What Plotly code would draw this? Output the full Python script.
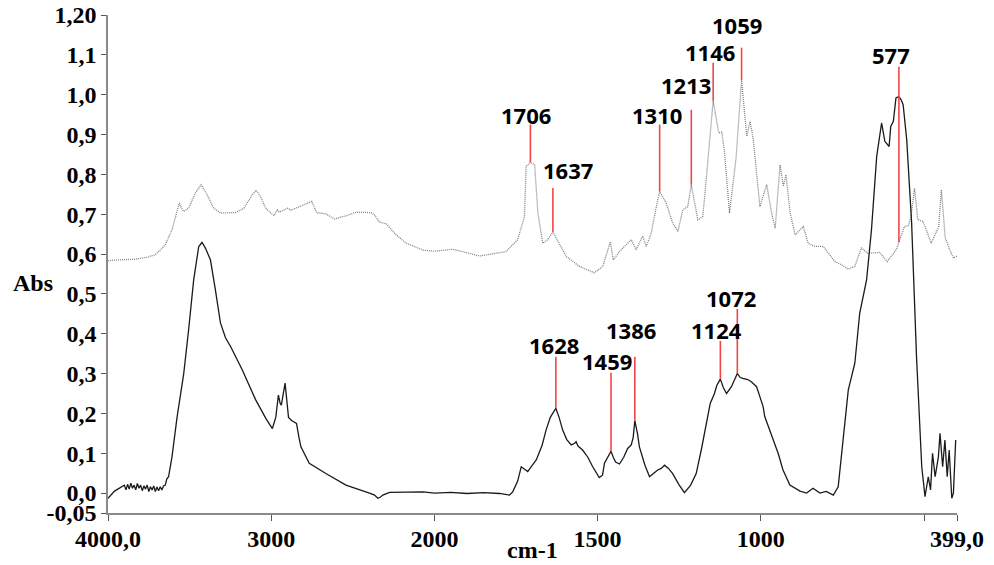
import numpy as np
import plotly.graph_objects as go

# ---------------- data (wavenumber cm-1, absorbance) ----------------
upper_wn = [4000, 3988, 3900, 3834, 3760, 3711, 3680, 3649, 3608, 3577, 3563, 3550, 3537, 3506,
            3465, 3430, 3393, 3352, 3311, 3218, 3167, 3116, 3092, 3065, 3034, 2983, 2962, 2950,
            2932, 2915, 2901, 2880, 2849, 2798, 2751, 2722, 2665, 2613, 2542, 2480, 2388, 2367,
            2337, 2295, 2234, 2172, 2070, 2000, 1944, 1862, 1781, 1745, 1724, 1719, 1706, 1693,
            1683, 1668, 1653, 1637, 1617, 1596, 1556, 1510, 1484, 1469, 1461, 1452, 1433, 1418,
            1397, 1382, 1362, 1351, 1336, 1320, 1310, 1290, 1270, 1254, 1239, 1224, 1213, 1193,
            1178, 1173, 1158, 1146, 1129, 1120, 1112, 1096, 1076, 1059, 1043, 1033, 1023, 1003,
            982, 967, 956, 941, 931, 923, 910, 895, 870, 855, 834, 809, 773, 753, 733, 712, 692,
            672, 636, 613, 585, 560, 548, 540, 529, 519, 504, 493, 478, 463, 455, 447, 435, 421,
            410, 399]
upper_abs = [0.583, 0.584, 0.586, 0.587, 0.592, 0.598, 0.610, 0.623, 0.661, 0.711, 0.728, 0.715,
             0.707, 0.715, 0.753, 0.774, 0.749, 0.715, 0.703, 0.704, 0.715, 0.749, 0.760, 0.744,
             0.715, 0.696, 0.711, 0.705, 0.709, 0.712, 0.715, 0.710, 0.715, 0.724, 0.732, 0.704,
             0.701, 0.688, 0.696, 0.705, 0.704, 0.698, 0.680, 0.676, 0.648, 0.627, 0.610, 0.607,
             0.612, 0.595, 0.606, 0.636, 0.694, 0.820, 0.830, 0.824, 0.703, 0.627, 0.636, 0.655,
             0.627, 0.594, 0.569, 0.553, 0.569, 0.611, 0.631, 0.585, 0.606, 0.619, 0.636, 0.611,
             0.645, 0.619, 0.652, 0.719, 0.757, 0.728, 0.678, 0.657, 0.711, 0.719, 0.774, 0.686,
             0.694, 0.736, 0.870, 0.985, 0.904, 0.906, 0.862, 0.703, 0.840, 1.036, 0.895, 0.933,
             0.887, 0.719, 0.774, 0.703, 0.665, 0.824, 0.770, 0.799, 0.703, 0.648, 0.669, 0.627,
             0.619, 0.619, 0.581, 0.573, 0.562, 0.569, 0.615, 0.602, 0.604, 0.581, 0.611, 0.669,
             0.671, 0.694, 0.765, 0.686, 0.682, 0.661, 0.627, 0.652, 0.669, 0.761, 0.640, 0.611,
             0.590, 0.595]

lower_wn = [4000, 3980, 3960, 3940, 3920, 3900, 3890, 3880, 3870, 3860, 3850, 3840, 3830, 3820,
            3810, 3800, 3790, 3780, 3770, 3760, 3750, 3740, 3730, 3720, 3710, 3700, 3690, 3680,
            3670, 3660, 3649, 3640, 3629, 3608, 3577, 3536, 3506, 3475, 3444, 3424, 3403, 3372,
            3342, 3311, 3280, 3249, 3177, 3095, 3034, 3003, 2993, 2972, 2956, 2945, 2938, 2915,
            2905, 2894, 2875, 2860, 2845, 2830, 2818, 2767, 2665, 2542, 2450, 2398, 2367, 2347,
            2330, 2316, 2275, 2200, 2070, 2000, 1950, 1900, 1850, 1800, 1770, 1760, 1745, 1734,
            1722, 1714, 1700, 1688, 1670, 1658, 1645, 1628, 1618, 1607, 1595, 1581, 1570, 1566,
            1560, 1546, 1530, 1515, 1495, 1485, 1479, 1459, 1452, 1445, 1433, 1420, 1408, 1397,
            1391, 1386, 1378, 1372, 1355, 1341, 1328, 1316, 1305, 1295, 1283, 1270, 1250, 1234,
            1215, 1198, 1182, 1168, 1155, 1142, 1135, 1124, 1115, 1105, 1090, 1072, 1063, 1055,
            1040, 1030, 1013, 1003, 993, 988, 973, 962, 947, 932, 911, 880, 860, 840, 819, 800,
            778, 763, 748, 732, 712, 697, 676, 661, 645, 636, 630, 620, 607, 602, 594, 586, 577,
            570, 564, 553, 538, 523, 507, 497, 487, 480, 474, 466, 456, 451, 443, 436, 429, 423,
            415, 410, 403]
lower_abs = [-0.013, -0.005, 0.005, 0.010, 0.015, 0.020, 0.008, 0.022, 0.010, 0.025, 0.012, 0.020,
             0.008, 0.024, 0.012, 0.020, 0.006, 0.018, 0.010, 0.020, 0.004, 0.016, 0.008, 0.018,
             0.004, 0.015, 0.006, 0.016, 0.008, 0.018, 0.020, 0.035, 0.041, 0.091, 0.190, 0.300,
             0.410, 0.535, 0.619, 0.629, 0.615, 0.585, 0.510, 0.427, 0.390, 0.368, 0.309, 0.234,
             0.188, 0.167, 0.162, 0.190, 0.246, 0.225, 0.221, 0.276, 0.230, 0.190, 0.182, 0.179,
             0.175, 0.140, 0.116, 0.075, 0.049, 0.020, 0.008, 0.000, -0.005, -0.013, -0.010,
             -0.005, 0.002, 0.003, 0.003, 0.000, 0.002, -0.001, 0.001, -0.001, -0.005, 0.003,
             0.030, 0.066, 0.060, 0.054, 0.070, 0.083, 0.120, 0.158, 0.190, 0.213, 0.190, 0.158,
             0.135, 0.121, 0.125, 0.129, 0.118, 0.108, 0.090, 0.066, 0.039, 0.045, 0.075, 0.105,
             0.090, 0.078, 0.073, 0.090, 0.112, 0.121, 0.140, 0.182, 0.150, 0.116, 0.070, 0.041,
             0.050, 0.058, 0.062, 0.070, 0.062, 0.049, 0.020, 0.001, 0.020, 0.049, 0.110, 0.175,
             0.225, 0.250, 0.270, 0.286, 0.265, 0.250, 0.267, 0.300, 0.290, 0.288, 0.285, 0.280,
             0.267, 0.242, 0.217, 0.192, 0.160, 0.133, 0.100, 0.058, 0.020, 0.005, 0.000, 0.012,
             0.000, 0.004, -0.005, 0.016, 0.133, 0.259, 0.326, 0.452, 0.535, 0.661, 0.845, 0.900,
             0.929, 0.883, 0.870, 0.920, 0.933, 0.992, 0.995, 0.987, 0.975, 0.887, 0.678, 0.342,
             0.066, -0.009, 0.041, 0.008, 0.100, 0.041, 0.091, 0.150, 0.066, 0.133, 0.041, 0.108,
             -0.013, 0.000, 0.133]

# peak labels
upper_peaks = [1706, 1637, 1310, 1213, 1146, 1059, 577]
lower_peaks = [1628, 1459, 1386, 1124, 1072]

x_tick_vals = [4000, 3000, 2000, 1500, 1000, 500, 399]
x_tick_text = ["4000,0", "3000", "2000", "1500", "1000", "", "399,0"]
y_tick_vals = [-0.05, 0.0, 0.1, 0.2, 0.3, 0.4, 0.5, 0.6, 0.7, 0.8, 0.9, 1.0, 1.1, 1.2]
y_tick_text = ["-0,05", "0,0", "0,1", "0,2", "0,3", "0,4", "0,5", "0,6", "0,7", "0,8",
               "0,9", "1,0", "1,1", "1,20"]


# axis scale doubles below 2000 cm-1 (spectrometer-style scale change)
def tx(wn):
    wn = np.asarray(wn, dtype=float)
    return np.where(wn <= 2000, wn, 2000 + (wn - 2000) / 2.0)


# label layout: (line top abs, text centre abs, text x shift px)
upper_layout = [(0.925, 0.95, -4), (0.766, 0.812, 15), (0.925, 0.95, -3), (0.962, 1.025, -5),
                (1.080, 1.108, -3), (1.118, 1.176, -5), (1.070, 1.100, -8)]
lower_layout = [(0.342, 0.372, -2), (0.302, 0.332, -4), (0.342, 0.410, -4), (0.382, 0.410, -4),
                (0.462, 0.490, -6)]

fig = go.Figure()
fig.add_trace(go.Scatter(x=tx(upper_wn), y=upper_abs, mode="lines",
                         line=dict(color="#808080", width=1.3, dash="1px,1px"), showlegend=False))
fig.add_trace(go.Scatter(x=tx(lower_wn), y=lower_abs, mode="lines",
                         line=dict(color="#1a1a1a", width=1.3), showlegend=False))

red = "rgb(240,70,70)"
label_font = dict(family="Open Sans", size=22, color="black", weight="bold")


def add_peaks(peaks, wn_arr, ab_arr, layout):
    wn_sorted = np.array(wn_arr[::-1], dtype=float)
    ab_sorted = np.array(ab_arr[::-1], dtype=float)
    for p, (top, ty, dx) in zip(peaks, layout):
        base = float(np.interp(p, wn_sorted, ab_sorted))
        xp = float(tx(p))
        fig.add_shape(type="line", x0=xp, x1=xp, y0=base, y1=top, xref="x", yref="y",
                      line=dict(color=red, width=1.6))
        fig.add_annotation(x=xp, y=ty, text=str(p), showarrow=False, xshift=dx,
                           xanchor="center", yanchor="middle", font=label_font)


add_peaks(upper_peaks, upper_wn, upper_abs, upper_layout)
add_peaks(lower_peaks, lower_wn, lower_abs, lower_layout)

tick_font = dict(family="Liberation Serif", size=24, color="black", weight="bold")

fig.update_layout(
    width=994, height=565,
    margin=dict(l=108, r=37, t=15, b=52, autoexpand=False),
    paper_bgcolor="white", plot_bgcolor="white",
    xaxis=dict(range=[3000, 399], tickvals=list(tx(x_tick_vals)), ticktext=x_tick_text,
               showgrid=False, zeroline=False, showline=True, linecolor="#8a8a8a", linewidth=1.5,
               ticks="outside", ticklen=6, tickcolor="#555", tickfont=tick_font,
               ticklabelstandoff=-3, automargin=False),
    yaxis=dict(range=[-0.05, 1.2], tickvals=y_tick_vals, ticktext=y_tick_text,
               showgrid=False, zeroline=False, showline=True, linecolor="#8a8a8a", linewidth=1.5,
               ticks="outside", ticklen=5, tickcolor="#555", tickfont=tick_font,
               automargin=False),
)
fig.add_annotation(xref="paper", yref="paper", x=-0.088, y=0.462, text="Abs",
                   showarrow=False, xanchor="center", yanchor="middle", font=tick_font)
fig.add_annotation(xref="paper", yref="paper", x=0.50, y=-0.075, text="cm-1",
                   showarrow=False, xanchor="center", yanchor="middle", font=tick_font)

fig.write_html("out.html", config={"displayModeBar": False},
               post_script="document.body.style.margin='0';document.body.style.overflow='hidden';")
